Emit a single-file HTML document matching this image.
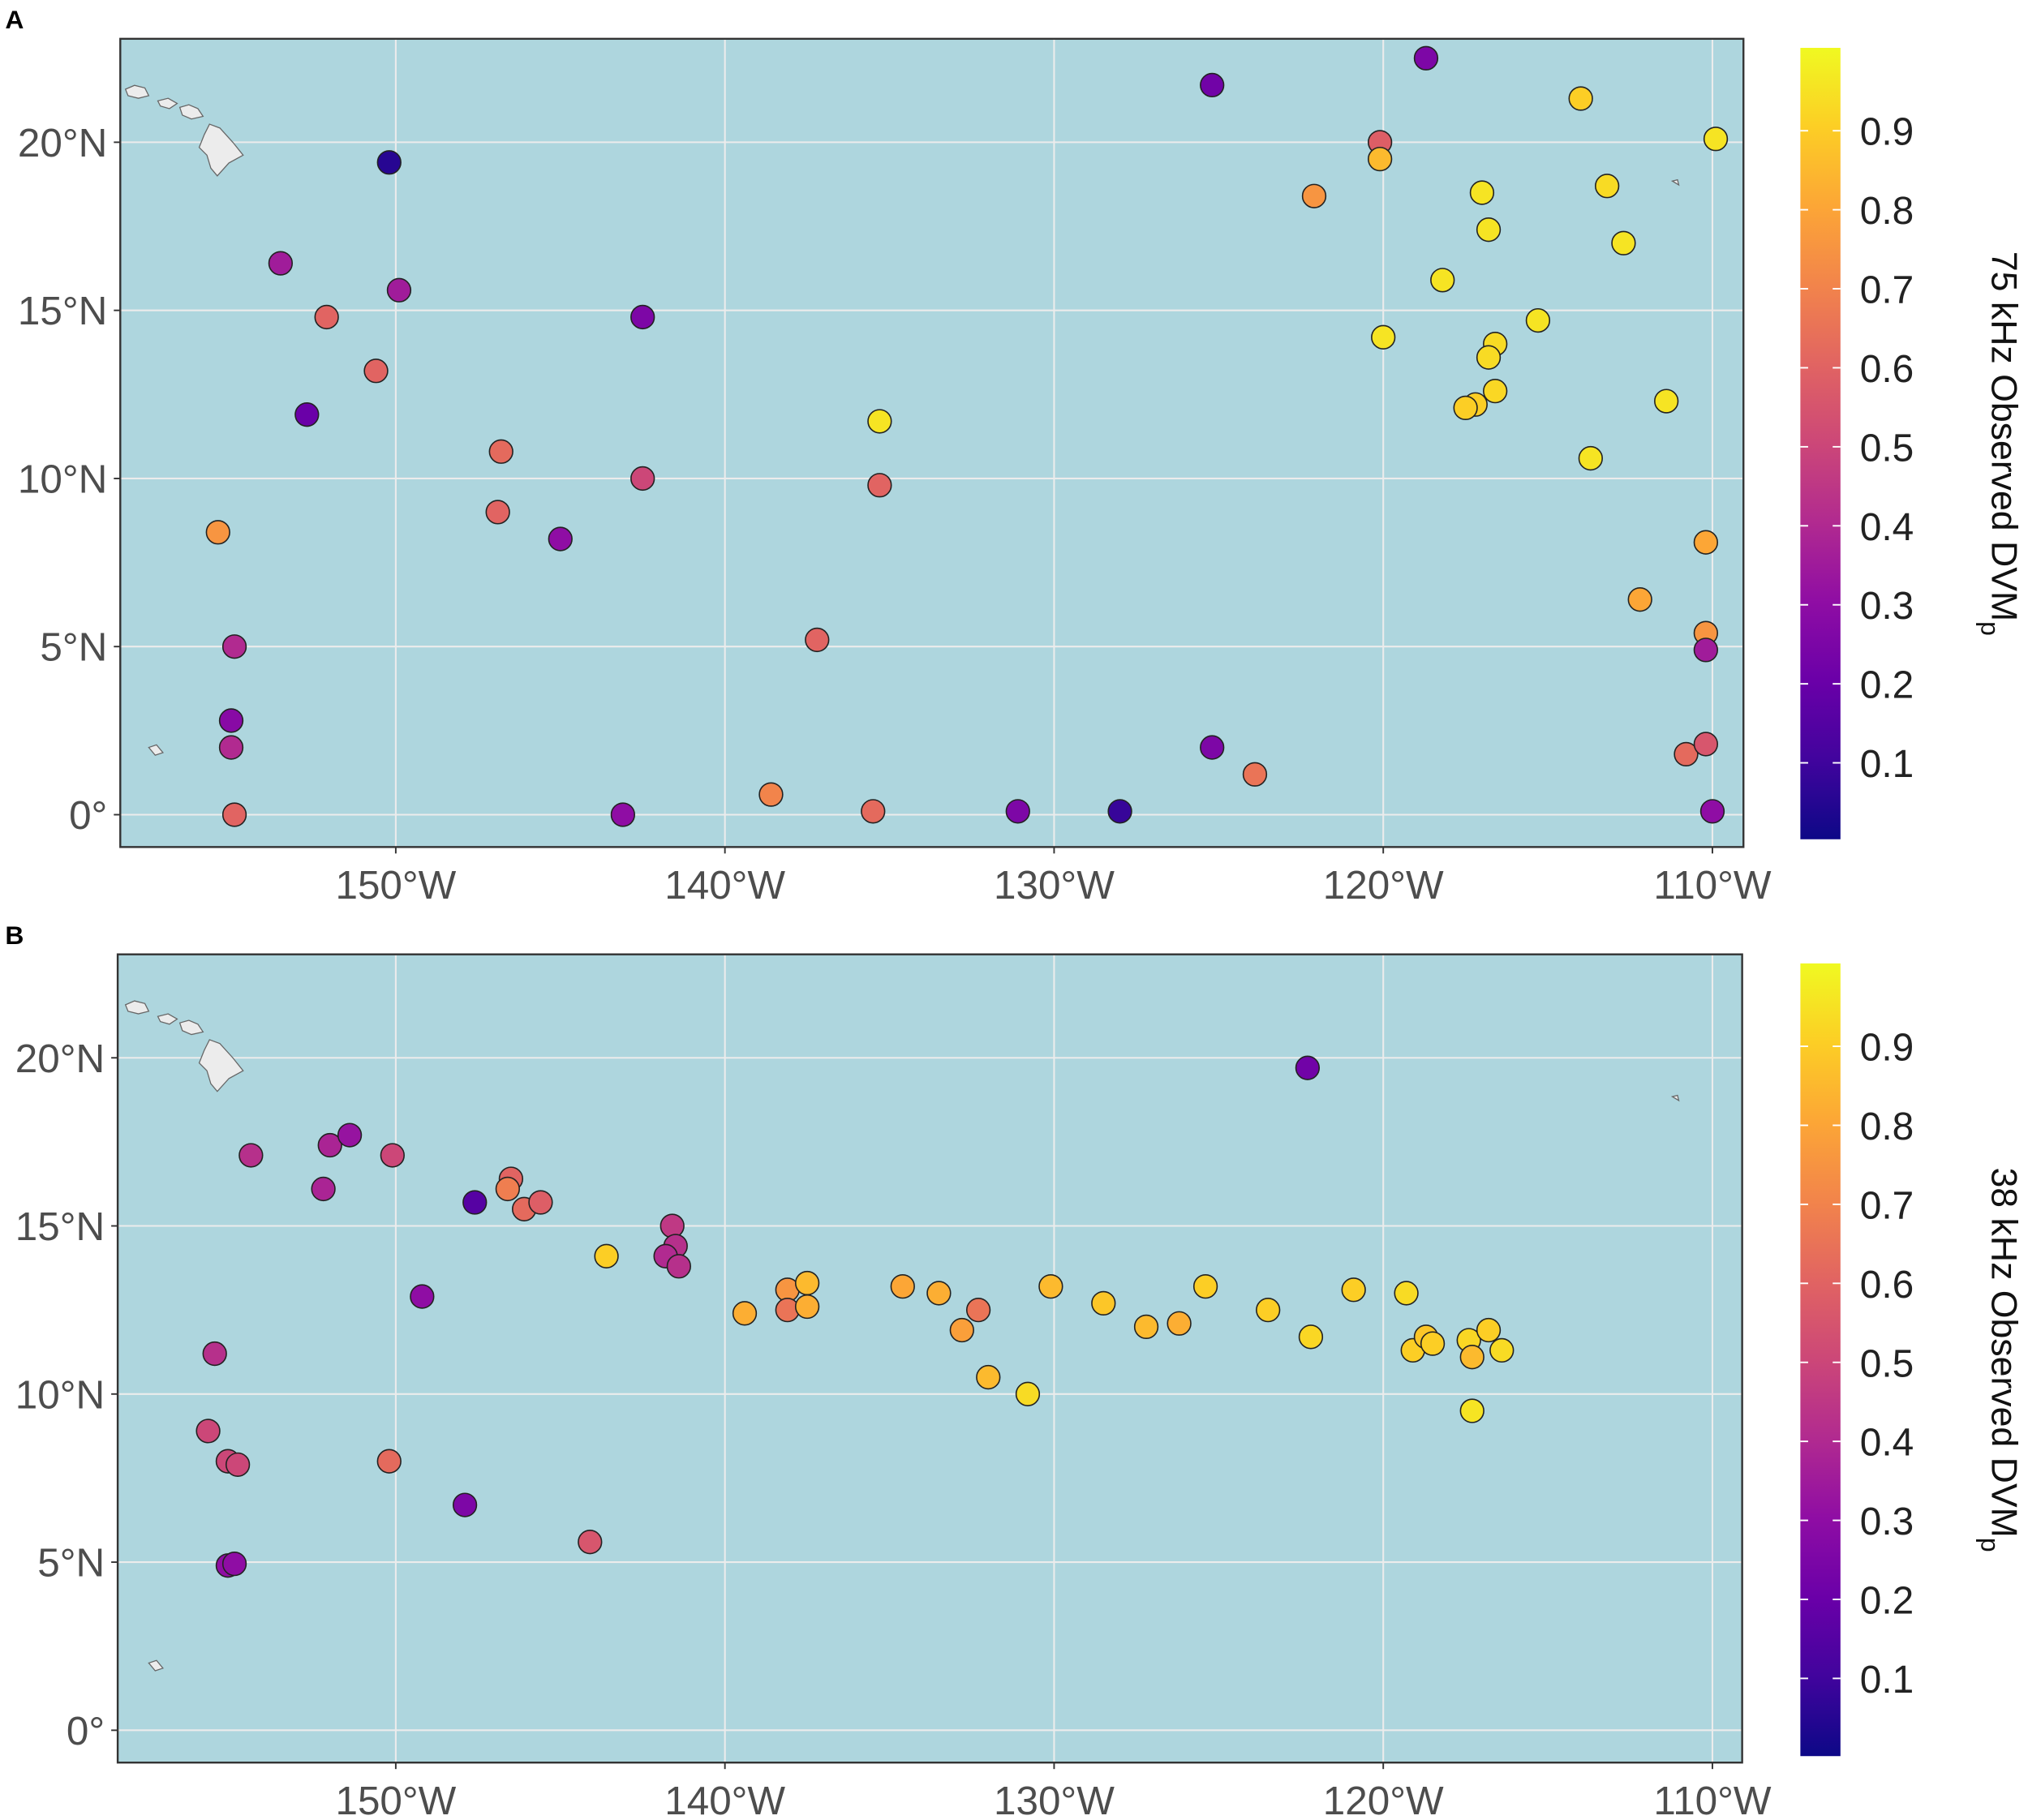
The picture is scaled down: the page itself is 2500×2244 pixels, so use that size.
<!DOCTYPE html>
<html><head><meta charset="utf-8"><style>
html,body{margin:0;padding:0;background:#fff}
svg{display:block}
text{font-family:"Liberation Sans",sans-serif}
</style></head><body>
<svg id="fig" width="2500" height="2244" viewBox="0 0 1568 1407.4" preserveAspectRatio="none" xmlns="http://www.w3.org/2000/svg">
<defs>
<linearGradient id="plasma" x1="0" y1="1" x2="0" y2="0">
<stop offset="0" stop-color="#0d0887"/><stop offset="0.1" stop-color="#41049d"/><stop offset="0.2" stop-color="#6a00a8"/><stop offset="0.3" stop-color="#8f0da4"/><stop offset="0.4" stop-color="#b12a90"/><stop offset="0.5" stop-color="#cc4778"/><stop offset="0.6" stop-color="#e16462"/><stop offset="0.7" stop-color="#f2844b"/><stop offset="0.8" stop-color="#fca636"/><stop offset="0.9" stop-color="#fcce25"/><stop offset="1" stop-color="#f0f921"/>
</linearGradient>
</defs>
</svg>
<script>
// Panel A (75 kHz) data
const lonA=[-150.2,-153.5,-152.1,-149.9,-150.6,-152.7,-155.4,-154.9,-155.0,-155.0,-154.9,-146.8,-146.9,-145.0,-142.5,-142.5,-143.1,-138.6,-137.2,-135.3,-135.3,-135.5,-131.1,-128.0,-125.2,-125.2,-123.9,-118.7,-122.1,-120.1,-120.1,-120.0,-118.2,-117.0,-116.8,-116.6,-116.8,-117.2,-117.5,-116.6,-114.0,-113.2,-112.7,-115.3,-111.4,-113.7,-109.9,-110.2,-112.2,-110.2,-110.2,-110.8,-110.2,-110.0];
const latA=[19.4,16.4,14.8,15.6,13.2,11.9,8.4,5.0,2.8,2.0,0.0,10.8,9.0,8.2,14.8,10.0,0.0,0.6,5.2,11.7,9.8,0.1,0.1,0.1,21.7,2.0,1.2,22.5,18.4,20.0,19.5,14.2,15.9,18.5,17.4,14.0,13.6,12.2,12.1,12.6,21.3,18.7,17.0,14.7,12.3,10.6,20.1,8.1,6.4,5.4,4.9,1.8,2.1,0.1];
const valA=[0.05,0.35,0.6,0.35,0.6,0.2,0.75,0.4,0.28,0.4,0.6,0.62,0.6,0.3,0.25,0.5,0.3,0.7,0.6,0.95,0.6,0.62,0.25,0.08,0.22,0.25,0.65,0.25,0.75,0.58,0.85,0.95,0.95,0.95,0.95,0.93,0.93,0.9,0.9,0.92,0.9,0.93,0.95,0.95,0.95,0.95,0.95,0.8,0.8,0.75,0.35,0.62,0.55,0.3];
// Panel B (38 kHz) data
const lonB=[-122.3,-154.4,-152.0,-151.4,-152.2,-150.1,-147.6,-146.5,-146.6,-146.1,-145.6,-149.2,-143.6,-141.6,-141.5,-141.8,-141.4,-155.5,-155.7,-155.1,-154.8,-150.2,-147.9,-144.1,-155.1,-154.9,-139.4,-138.1,-138.1,-137.5,-137.5,-134.6,-133.5,-132.8,-132.3,-132.0,-130.8,-130.1,-128.5,-127.2,-126.2,-125.4,-123.5,-122.2,-120.9,-119.3,-119.1,-118.7,-118.5,-117.4,-117.3,-116.8,-116.4,-117.3];
const latB=[19.7,17.1,17.4,17.7,16.1,17.1,15.7,16.4,16.1,15.5,15.7,12.9,14.1,15.0,14.4,14.1,13.8,11.2,8.9,8.0,7.9,8.0,6.7,5.6,4.9,4.95,12.4,13.1,12.5,13.3,12.6,13.2,13.0,11.9,12.5,10.5,10.0,13.2,12.7,12.0,12.1,13.2,12.5,11.7,13.1,13.0,11.3,11.7,11.5,11.6,11.1,11.9,11.3,9.5];
const valB=[0.22,0.42,0.38,0.32,0.38,0.5,0.15,0.6,0.68,0.62,0.58,0.3,0.9,0.45,0.42,0.4,0.42,0.42,0.5,0.5,0.5,0.62,0.25,0.55,0.3,0.3,0.82,0.75,0.65,0.85,0.82,0.8,0.82,0.78,0.65,0.85,0.93,0.85,0.88,0.85,0.82,0.9,0.9,0.92,0.9,0.93,0.9,0.88,0.9,0.92,0.85,0.9,0.93,0.95];
const lonTicks=[-150,-140,-130,-120,-110];
const lonTickLabels=["150°W","140°W","130°W","120°W","110°W"];
const latTicks=[0,5,10,15,20];
const latTickLabels=["0°","5°N","10°N","15°N","20°N"];
const cbTicks=[0.1,0.2,0.3,0.4,0.5,0.6,0.7,0.8,0.9];

const stops=["#0d0887","#41049d","#6a00a8","#8f0da4","#b12a90","#cc4778","#e16462","#f2844b","#fca636","#fcce25","#f0f921"];
function hex(h){return [1,3,5].map(i=>parseInt(h.substr(i,2),16));}
function plasma(v){v=Math.max(0,Math.min(1,v));const t=v*10,i=Math.min(9,Math.floor(t)),f=t-i;const a=hex(stops[i]),b=hex(stops[i+1]);return "rgb("+a.map((c,k)=>Math.round(c+(b[k]-c)*f)).join(",")+")";}
const NS="http://www.w3.org/2000/svg";
const svg=document.getElementById("fig");
function mk(tag,attrs,parent){const e=document.createElementNS(NS,tag);for(const k in attrs)e.setAttribute(k,attrs[k]);(parent||svg).appendChild(e);return e;}

function panel(cfg){
  const g=mk("g",{});
  
  
  const X=lon=>306+(lon+150)*25.45;
  const Y=lat=>cfg.y0-lat*26;
  const bg=mk("rect",{x:cfg.x1,y:cfg.top,width:cfg.x2-cfg.x1,height:cfg.bot-cfg.top,fill:"#aed6de"},g);
  
  
  lonTicks.forEach((l,i)=>{
    const gl=mk("line",{x1:X(l),x2:X(l),y1:cfg.top,y2:cfg.bot,stroke:"#ececec","stroke-width":1.3},g);
    
    
    mk("line",{x1:X(l),x2:X(l),y1:cfg.bot,y2:cfg.bot+5,stroke:"#333","stroke-width":1.2},g);
    const t=mk("text",{x:X(l),y:cfg.bot+40,"text-anchor":"middle","font-size":31,fill:"#4d4d4d"},g);
    t.textContent=lonTickLabels[i];
    
    
  });
  latTicks.forEach((l,i)=>{
    const gl=mk("line",{x1:cfg.x1,x2:cfg.x2,y1:Y(l),y2:Y(l),stroke:"#ececec","stroke-width":1.3},g);
    
    
    mk("line",{x1:cfg.x1-5,x2:cfg.x1,y1:Y(l),y2:Y(l),stroke:"#333","stroke-width":1.2},g);
    const t=mk("text",{x:cfg.x1-10,y:Y(l)+11,"text-anchor":"end","font-size":31,fill:"#4d4d4d"},g);
    t.textContent=latTickLabels[i];
    
    
  });
  // islands (Hawaii)
  const dy=cfg.y0-630;
  const isl=[
    "M97,69 L104,66 L112,68 L115,74 L107,76 L99,74 Z",
    "M122,78 L130,76 L137,80 L131,84 L124,82 Z",
    "M139,83 L146,81 L153,84 L157,90 L148,92 L141,89 Z",
    "M162,96 L170,99 L180,110 L188,120 L177,126 L168,136 L163,130 L160,120 L154,114 L158,104 Z",
    "M115,578 L121,576 L126,582 L120,584 Z",
    "M1293,140 L1297,139 L1298,143 Z"
  ];
  isl.forEach(d=>{
    const p=mk("path",{d:d,fill:"#ececec",stroke:"#666","stroke-width":0.8,transform:"translate(0,"+dy+")"},g);
    
    
  });
  cfg.lon.forEach((l,i)=>{
    const c=mk("circle",{cx:X(l),cy:Y(cfg.lat[i]),r:9,fill:plasma(cfg.val[i]),stroke:"#222","stroke-width":1},g);
    
    
  });
  const fr=mk("rect",{x:cfg.x1,y:cfg.top,width:cfg.x2-cfg.x1,height:cfg.bot-cfg.top,fill:"none",stroke:"#333","stroke-width":1.5},g);
  
  
  const pl=mk("text",{x:4,y:cfg.top-8,"font-size":20,"font-weight":"bold",fill:"#000"},g);
  pl.textContent=cfg.label;
  
  
  // colorbar
  const cbTop=cfg.cbTop, cbBot=cfg.cbBot;
  const CB=v=>cfg.cb0-v*611;
  const cb=mk("rect",{x:1392,y:cbTop,width:31,height:cbBot-cbTop,fill:"url(#plasma)"},g);
  
  
  cbTicks.forEach(v=>{
    mk("line",{x1:1392,x2:1398,y1:CB(v),y2:CB(v),stroke:"#fff","stroke-width":1.2},g);
    mk("line",{x1:1417,x2:1423,y1:CB(v),y2:CB(v),stroke:"#fff","stroke-width":1.2},g);
    const t=mk("text",{x:1438,y:CB(v)+11,"font-size":30,fill:"#222"},g);
    t.textContent=v.toFixed(1);
    
    
  });
  const ty=(cbTop+cbBot)/2;
  const tt=mk("text",{x:1540,y:ty,"font-size":28,fill:"#111","text-anchor":"middle",transform:"rotate(90 1540 "+ty+")"},g);
  tt.innerHTML=cfg.title+"<tspan font-size='20' dy='8'>p</tspan>";
  
  
}
panel({name:"panel-a-75khz",label:"A",x1:93,x2:1348,top:30,bot:655,y0:630,lon:lonA,lat:latA,val:valA,cbTop:37,cbBot:649,cb0:651,title:"75 kHz Observed DVM"});
panel({name:"panel-b-38khz",label:"B",x1:91,x2:1347,top:738,bot:1363,y0:1338,lon:lonB,lat:latB,val:valB,cbTop:745,cbBot:1358,cb0:1359,title:"38 kHz Observed DVM"});
</script>
</body></html>
